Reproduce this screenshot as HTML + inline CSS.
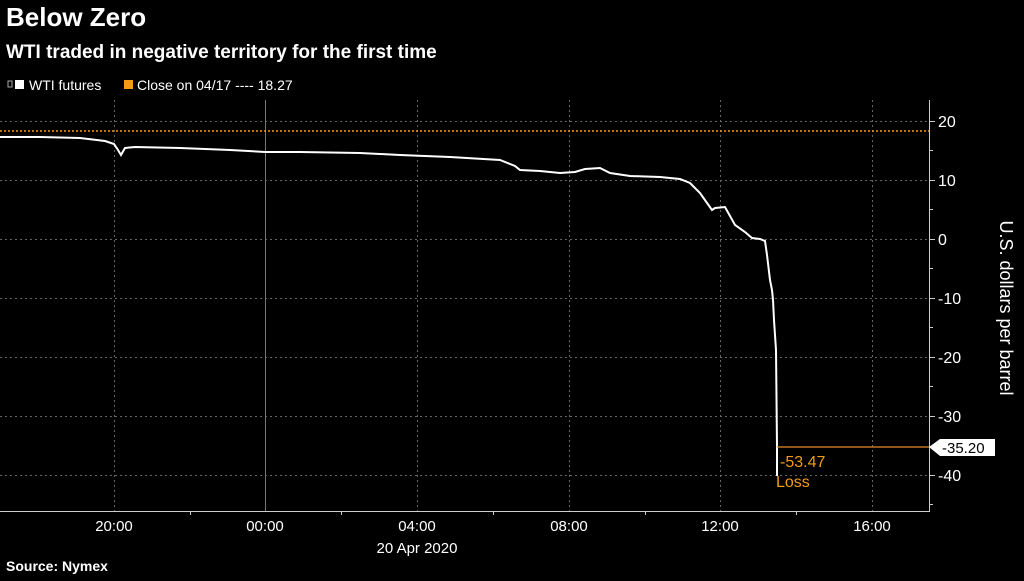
<!DOCTYPE html>
<html><head><style>
body{margin:0;background:#000;width:1024px;height:576px;overflow:hidden;font-family:"Liberation Sans",sans-serif;}
</style></head><body>
<svg width="1024" height="576" xmlns="http://www.w3.org/2000/svg" font-family="Liberation Sans, sans-serif">
<rect width="1024" height="576" fill="#000"/>
<text x="6" y="26" fill="#fff" font-size="26" font-weight="bold">Below Zero</text>
<text x="6" y="58" fill="#fff" font-size="19" font-weight="bold">WTI traded in negative territory for the first time</text>
<rect x="8" y="81" width="4" height="6" fill="none" stroke="#aaa" stroke-width="1"/>
<rect x="15" y="80" width="9" height="9" fill="#fff"/>
<text x="29" y="90" fill="#fff" font-size="14">WTI futures</text>
<rect x="124" y="80" width="9" height="9" fill="#f39c12"/>
<text x="137" y="90" fill="#fff" font-size="14">Close on 04/17 ---- 18.27</text>
<g stroke="#666" stroke-width="1" stroke-dasharray="2,3">
<line x1="0" y1="121.5" x2="929" y2="121.5"/>
<line x1="0" y1="180.5" x2="929" y2="180.5"/>
<line x1="0" y1="239.5" x2="929" y2="239.5"/>
<line x1="0" y1="298.5" x2="929" y2="298.5"/>
<line x1="0" y1="357.5" x2="929" y2="357.5"/>
<line x1="0" y1="416.5" x2="929" y2="416.5"/>
<line x1="0" y1="475.5" x2="929" y2="475.5"/>
<line x1="114.5" y1="100" x2="114.5" y2="511"/>
<line x1="417.5" y1="100" x2="417.5" y2="511"/>
<line x1="569.5" y1="100" x2="569.5" y2="511"/>
<line x1="720.5" y1="100" x2="720.5" y2="511"/>
<line x1="872.5" y1="100" x2="872.5" y2="511"/>
</g>
<line x1="265.5" y1="100" x2="265.5" y2="511" stroke="#777"/>
<line x1="0" y1="131" x2="929" y2="131" stroke="#f39c12" stroke-width="1.5" stroke-dasharray="2,2"/>
<line x1="0" y1="511.5" x2="929" y2="511.5" stroke="#ccc"/>
<line x1="929.5" y1="100" x2="929.5" y2="512" stroke="#ccc"/>
<g stroke="#ccc"><line x1="190.5" y1="511" x2="190.5" y2="515"/><line x1="341.5" y1="511" x2="341.5" y2="515"/><line x1="493.5" y1="511" x2="493.5" y2="515"/><line x1="645.5" y1="511" x2="645.5" y2="515"/><line x1="796.5" y1="511" x2="796.5" y2="515"/>
<line x1="929" y1="150.5" x2="933" y2="150.5"/><line x1="929" y1="209.5" x2="933" y2="209.5"/><line x1="929" y1="268.5" x2="933" y2="268.5"/><line x1="929" y1="327.5" x2="933" y2="327.5"/><line x1="929" y1="386.5" x2="933" y2="386.5"/><line x1="929" y1="504.5" x2="933" y2="504.5"/>
<line x1="929" y1="121.5" x2="935" y2="121.5"/><line x1="929" y1="180.5" x2="935" y2="180.5"/><line x1="929" y1="239.5" x2="935" y2="239.5"/><line x1="929" y1="298.5" x2="935" y2="298.5"/><line x1="929" y1="357.5" x2="935" y2="357.5"/><line x1="929" y1="416.5" x2="935" y2="416.5"/><line x1="929" y1="475.5" x2="935" y2="475.5"/></g>
<g fill="#fff" font-size="16">
<text x="938" y="127">20</text><text x="938" y="186">10</text><text x="938" y="245">0</text><text x="938" y="304">-10</text><text x="938" y="363">-20</text><text x="938" y="422">-30</text><text x="938" y="481">-40</text>
</g>
<g fill="#fff" font-size="15">
<text x="114" y="531" text-anchor="middle">20:00</text><text x="265" y="531" text-anchor="middle">00:00</text><text x="417" y="531" text-anchor="middle">04:00</text><text x="569" y="531" text-anchor="middle">08:00</text><text x="720" y="531" text-anchor="middle">12:00</text><text x="872" y="531" text-anchor="middle">16:00</text>
<text x="417" y="553" text-anchor="middle">20 Apr 2020</text>
</g>
<text transform="translate(1000,308) rotate(90)" fill="#fff" font-size="18" text-anchor="middle">U.S. dollars per barrel</text>
<text x="6" y="571" fill="#fff" font-size="14" font-weight="bold">Source: Nymex</text>
<polyline fill="none" stroke="#fff" stroke-width="2" points="0,137 40,137 80,138 105,141 114,144 118,150 121,155 125,148 135,147 180,148 230,150 265,152 300,152 360,153 400,155 450,157 500,160 515,166 520,170 540,171 560,173 575,172 585,169 600,168 610,173 630,176 660,177 680,179 690,183 700,193 712,210 715,208 725,207 735,225 745,232 752,238 760,239 765,241 767,255 770,280 772,290 773,300 774,320 776,350 777,446 777,476"/>
<line x1="777" y1="447" x2="929" y2="447" stroke="#e8892a" stroke-width="1.2"/>
<polygon points="929,447 940,439 995,439 995,456 940,456" fill="#fff"/>
<text x="942" y="453" fill="#000" font-size="15">-35.20</text>
<text x="780" y="467" fill="#f39c12" font-size="16">-53.47</text>
<text x="776" y="487" fill="#f39c12" font-size="16">Loss</text>
</svg>
</body></html>
